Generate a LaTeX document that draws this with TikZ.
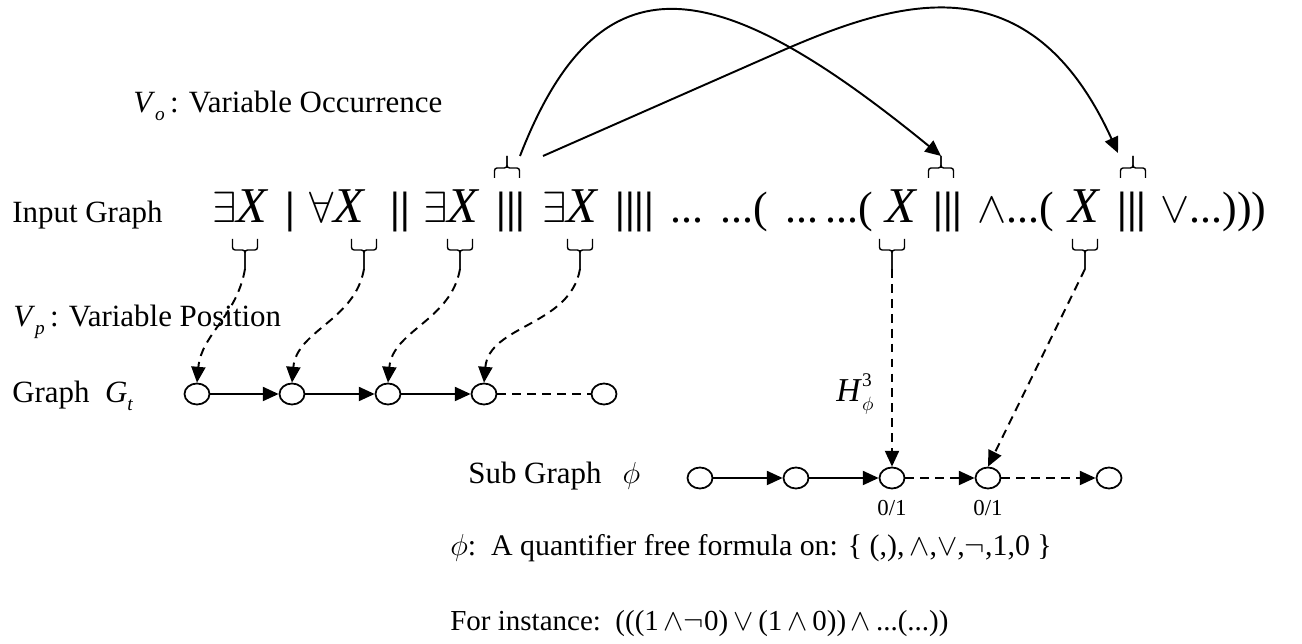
\documentclass[tikz,border=0pt]{standalone}
\usepackage{fontspec}
\setmainfont{Liberation Serif}
\usetikzlibrary{arrows.meta,calc,positioning,shapes.geometric}

\newcommand{\lowsub}[1]{\raisebox{-0.55ex}{\fontsize{11}{11}\selectfont\itshape #1}}
\newcommand{\varX}{{\fontsize{28.5}{30}\selectfont\itshape X}}

\begin{document}
\begin{tikzpicture}[
  lbl/.style={anchor=base west, inner sep=0pt, font=\fontsize{17.6}{20}\selectfont},
  formula/.style={anchor=base west, inner sep=0pt, font=\fontsize{25}{30}\selectfont},
  vertex/.style={ellipse, draw, line width=1pt, fill=white, minimum width=0.5cm, minimum height=0.42cm, inner sep=0pt},
  link/.style={-{Triangle[length=9pt,width=8pt]}, line width=1.1pt},
  dashlink/.style={-{Triangle[length=9pt,width=8pt]}, line width=1.1pt, dash pattern=on 5pt off 3.5pt},
  bracepen/.style={line width=0.8pt, rounded corners=1.5pt},
  dbrace/.pic={
    \draw[bracepen] (-0.25,0) |- (0,-0.22) -- (0,-0.6) coordinate (-tip);
    \draw[bracepen] (0.25,0) |- (0,-0.22) -- (0,-0.6);
  },
  ubrace/.pic={
    \draw[bracepen] (-0.25,0) |- (0,0.2) -- (0,0.44) coordinate (-tip);
    \draw[bracepen] (0.25,0) |- (0,0.2) -- (0,0.44);
  },
]
\useasboundingbox (0,0) rectangle (26.04,12.88);

% labels on the left
\node[lbl] (vo) at (2.66,10.62) {\textit{V}\lowsub{o}\,: Variable Occurrence};
\node[lbl] (input) at (0.24,8.42) {Input Graph};
\node[lbl] (vp) at (0.26,6.34) {\textit{V}\lowsub{p}\,: Variable Position};
\node[lbl] (gt) at (0.24,4.82) {Graph\enspace\textit{G}\lowsub{t}};
\node[lbl] (sub) at (9.36,3.2) {Sub Graph\hspace{12pt}$\phi$};

% the input string
\foreach \x/\t [count=\i] in {4.24/{$\exists$\varX}, 5.7/{\textbf{|}}, 6.18/{$\forall$\varX},
    7.8/{\textbf{||}}, 8.46/{$\exists$\varX}, 9.92/{\textbf{|||}}, 10.84/{$\exists$\varX},
    12.3/{\textbf{||||}}, 13.4/{...}, 14.4/{...(}, 15.7/{...}, 16.5/{...(}, 17.7/{\varX},
    18.66/{\textbf{|||}}, 19.54/{$\wedge$...(}, 21.36/{\varX}, 22.34/{\textbf{|||}}, 23.2/{$\vee$...)))}} {
  \node[formula] (f\i) at (\x,8.42) {\t};
}

% braces
\foreach \x [count=\i] in {4.9,7.28,9.2,11.6,17.84,21.7} {
  \pic (d\i) at (\x,8.1) {dbrace};
}
\foreach \x [count=\i] in {10.14,18.82,22.66} {
  \pic (u\i) at (\x,9.32) {ubrace};
}

% graph G_t
\foreach \x [count=\i] in {3.94,5.84,7.76,9.68,12.08} {
  \node[vertex] (c\i) at (\x,5.0) {};
}
\draw[link] (c1) -- (c2);
\draw[link] (c2) -- (c3);
\draw[link] (c3) -- (c4);
\draw[line width=1pt, dash pattern=on 5pt off 3.5pt] (c4) -- (c5);

% sub graph phi
\foreach \x [count=\i] in {14.0,15.92,17.84,19.76,22.18} {
  \node[vertex] (s\i) at (\x,3.32) {};
}
\draw[link] (s1) -- (s2);
\draw[link] (s2) -- (s3);
\draw[dashlink] (s3) -- (s4);
\draw[dashlink] (s4) -- (s5);
\node[font=\fontsize{13}{15}\selectfont, below=0.1cm of s3] (z3) {0/1};
\node[font=\fontsize{13}{15}\selectfont, below=0.1cm of s4] (z4) {0/1};

% positions
\foreach \i in {1,...,4} {
  \draw[dashlink] (d\i-tip) to[out=-100,in=85] (c\i.north);
}
\draw[dashlink] (d5-tip) -- (s3.north);
\draw[dashlink] (d6-tip) -- (s4.north);
\node[font=\fontsize{19}{22}\selectfont] (h) at (17.1,5.0) {\textit{H}\rlap{\raisebox{1.0ex}{\fontsize{11}{11}\selectfont 3}}\raisebox{-0.6ex}{\fontsize{11}{11}\selectfont$\phi$}};

% occurrences
\coordinate (occA) at ($(u1-tip)+(0.26,0)$);
\coordinate (occB) at ($(u1-tip)+(0.72,0)$);
\coordinate (occC) at ($(u3-tip)+(-0.3,0.06)$);
\draw[link] (occA) .. controls +(1.6,4.12) and +(-4.48,3.66) .. (u2-tip);
\draw[link] (occB) -- ++(4.86,2.14) .. controls +(2.28,0.98) and +(-1.76,3.86) .. (occC);

% bottom text
\node[lbl, font=\fontsize{17}{19}\selectfont] (def) at (9.0,1.76) {$\phi$:\enspace A quantifier free formula on: \{ (,),\,$\wedge$,$\vee$,$\neg$,1,0 \}};
\node[lbl, font=\fontsize{16.5}{19}\selectfont] (eg) at (9.0,0.26) {For instance:\enspace (((1\,$\wedge\neg$0)\,$\vee$\,(1\,$\wedge$\,0))\,$\wedge$\,...(...))};
\end{tikzpicture}
\end{document}
